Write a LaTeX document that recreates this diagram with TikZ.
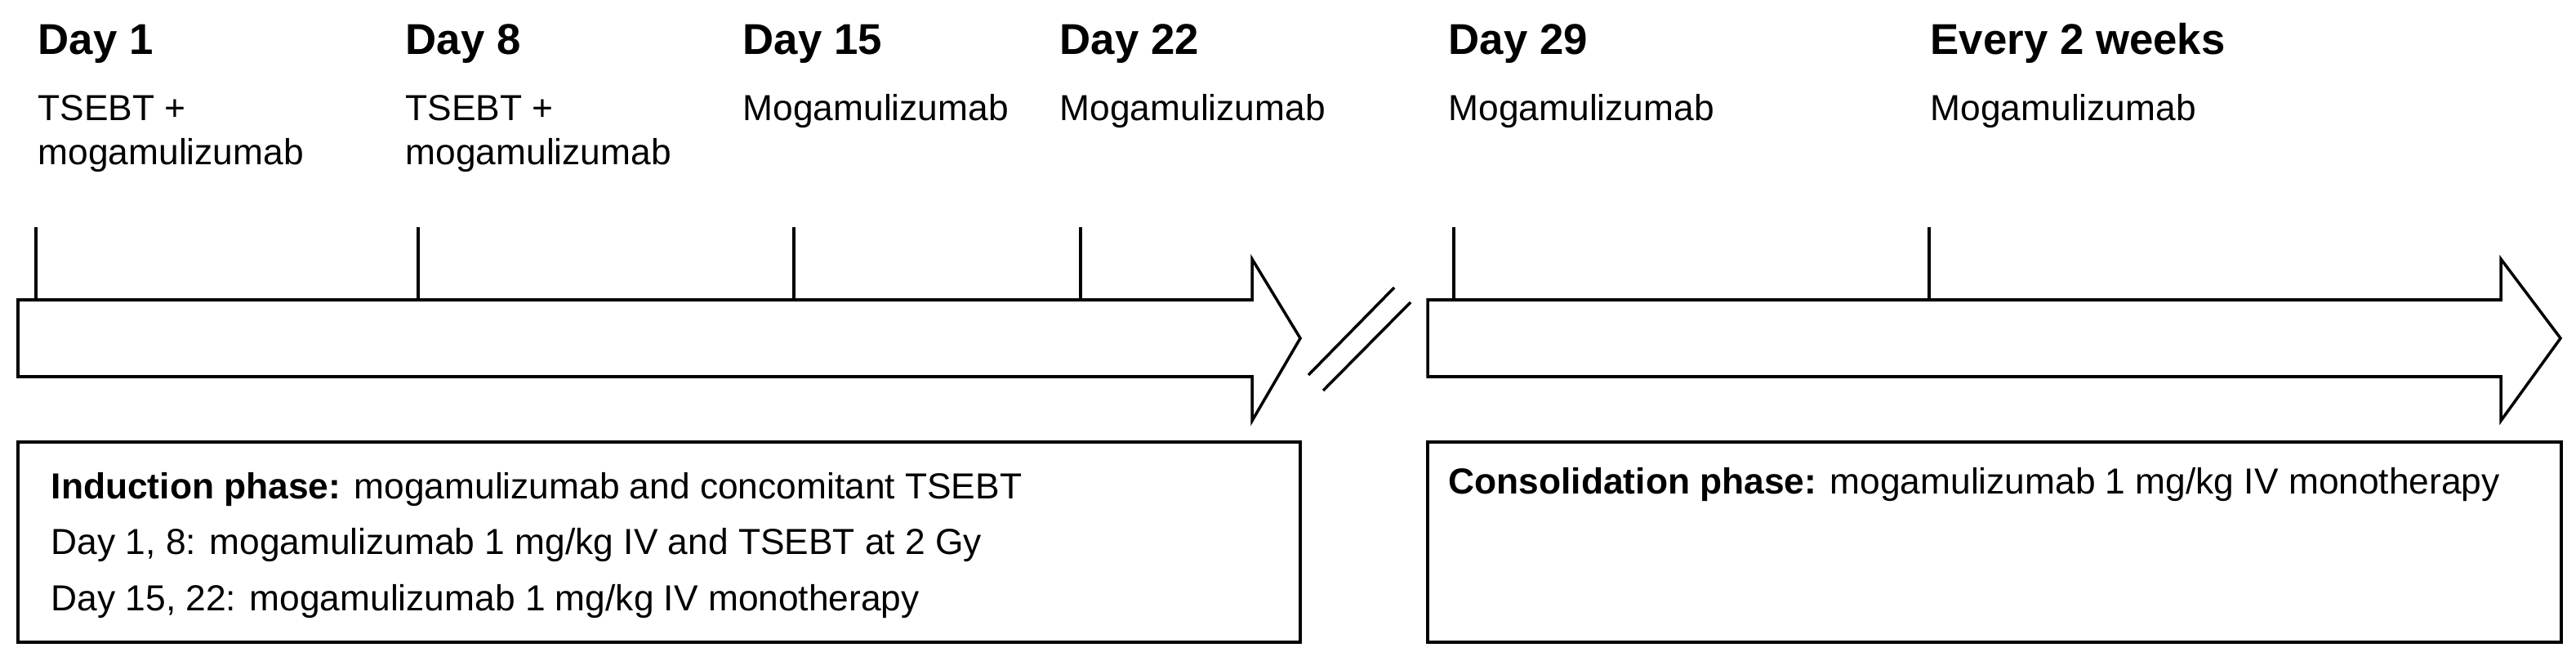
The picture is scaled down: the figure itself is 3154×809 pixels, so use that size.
\documentclass[tikz,border=0pt]{standalone}
\usepackage{fontspec}
\setmainfont{Liberation Sans}
\begin{document}
\begin{tikzpicture}[x=0.01cm,y=-0.01cm,line width=1pt,
    daylbl/.style={anchor=base west,inner sep=0pt,font=\fontsize{15}{18}\selectfont\bfseries},
    druglbl/.style={anchor=base west,inner sep=0pt,font=\fontsize{12.6}{15}\selectfont},
    boxtxt/.style={anchor=base west,inner sep=0pt,font=\fontsize{12.6}{15}\selectfont}]
    % Canvas
    \useasboundingbox (0,0) rectangle (3154,809);

    % Timeline arrows
    \draw (22,367) -- (1533,367) -- (1533,317) -- (1592,414) -- (1533,515) -- (1533,461) -- (22,461) -- cycle;
    \draw (1748,367) -- (3062,367) -- (3062,317) -- (3135,414) -- (3062,515) -- (3062,461) -- (1748,461) -- cycle;

    % Break marks
    \draw (1602,459) -- (1707,352);
    \draw (1620,478) -- (1727,370);

    % Ticks
    \foreach \x in {44,512,972,1323,1780,2362}
        \draw (\x,278) -- (\x,367);

    % Day labels
    \node[daylbl] (d1) at (45,67) {Day 1};
    \node[daylbl] (d8) at (495,67) {Day 8};
    \node[daylbl] (d15) at (908,67) {Day 15};
    \node[daylbl] (d22) at (1296,67) {Day 22};
    \node[daylbl] (d29) at (1772,67) {Day 29};
    \node[daylbl] (dq2w) at (2362,67) {Every 2 weeks};

    % Treatments
    \node[druglbl] (t1) at (45,147) {TSEBT +};
    \node[druglbl] (t1b) at (45,201) {mogamulizumab};
    \node[druglbl] (t8) at (495,147) {TSEBT +};
    \node[druglbl] (t8b) at (495,201) {mogamulizumab};
    \node[druglbl] (t15) at (908,147) {Mogamulizumab};
    \node[druglbl] (t22) at (1296,147) {Mogamulizumab};
    \node[druglbl] (t29) at (1772,147) {Mogamulizumab};
    \node[druglbl] (tq2w) at (2362,147) {Mogamulizumab};

    % Phase boxes
    \draw (22,541) rectangle (1592,786);
    \draw (1748,541) rectangle (3136,786);
    \node[boxtxt] (ind1) at (61,610) {\textbf{Induction phase:} mogamulizumab and concomitant TSEBT};
    \node[boxtxt] (ind2) at (61,678) {Day 1, 8: mogamulizumab 1 mg/kg IV and TSEBT at 2 Gy};
    \node[boxtxt] (ind3) at (61,747) {Day 15, 22: mogamulizumab 1 mg/kg IV monotherapy};
    \node[boxtxt] (cons) at (1772,604) {\textbf{Consolidation phase:} mogamulizumab 1 mg/kg IV monotherapy};
\end{tikzpicture}
\end{document}
